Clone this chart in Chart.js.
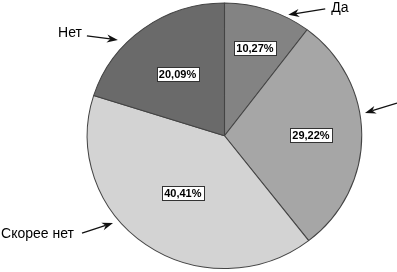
<!DOCTYPE html>
<html>
<head>
<meta charset="utf-8">
<script src="https://cdn.jsdelivr.net/npm/chart.js@4"></script>
<style>
    html, body { margin: 0; padding: 0; background: #fff; }
    #wrap { width: 397px; height: 272px; }
</style>
</head>
<body>
<div id="wrap"><canvas id="pieChart"></canvas></div>
<script>
const answers = ['Да', 'Скорее да', 'Скорее нет', 'Нет'];
const shares = [10.27, 29.22, 40.41, 20.09];
const sliceColors = ['#838383', '#a6a6a6', '#d3d3d3', '#6a6a6a'];

// the original pie is a bit wider than tall
const stretchX = 1.034;

// callout arrows: tip angle (deg from top), gap from rim, tail offset, text offset
const callouts = [
    { angle: 27.0, gap: 3, dx: 37, dy: -6, tx: 6, ty: -1 },
    { angle: 80.5, gap: 5, dx: 32, dy: -10, tx: 6, ty: -1 },
    { angle: 231.0, gap: 6, dx: -31, dy: 10, tx: -8, ty: 1 },
    { angle: 312.9, gap: 8, dx: -31, dy: -4, tx: -5, ty: -3 }
];
const valueRadius = [0.70, 0.63, 0.53, 0.58];

function fmt(v) {
    return v.toFixed(2).replace('.', ',') + '%';
}

function arrow(ctx, x1, y1, x2, y2) {
    const a = Math.atan2(y2 - y1, x2 - x1);
    const len = 11, half = 4;
    const c = Math.cos(a), s = Math.sin(a);
    ctx.beginPath();
    ctx.moveTo(x1, y1);
    ctx.lineTo(x2 - c * len * 0.7, y2 - s * len * 0.7);
    ctx.stroke();
    ctx.beginPath();
    ctx.moveTo(x2, y2);
    ctx.lineTo(x2 - c * len - s * half, y2 - s * len + c * half);
    ctx.lineTo(x2 - c * len * 0.7, y2 - s * len * 0.7);
    ctx.lineTo(x2 - c * len + s * half, y2 - s * len - c * half);
    ctx.closePath();
    ctx.fill();
}

const stretchPlugin = {
    id: 'stretch',
    beforeDatasetsDraw(chart) {
        const arc = chart.getDatasetMeta(0).data[0];
        const ctx = chart.ctx;
        ctx.save();
        ctx.translate(arc.x, arc.y);
        ctx.scale(stretchX, 1);
        ctx.translate(-arc.x, -arc.y);
    },
    afterDatasetsDraw(chart) {
        chart.ctx.restore();
    }
};

const labelPlugin = {
    id: 'pieLabels',
    afterDatasetsDraw(chart) {
        const ctx = chart.ctx;
        const arcs = chart.getDatasetMeta(0).data;
        ctx.save();
        arcs.forEach((arc, i) => {
            const cx = arc.x, cy = arc.y, R = arc.outerRadius;
            const mid = (arc.startAngle + arc.endAngle) / 2;

            // value box
            const r = R * valueRadius[i];
            const lx = cx + Math.cos(mid) * r * stretchX;
            const ly = cy + Math.sin(mid) * r;
            ctx.font = 'bold 11px "Liberation Sans", Arial, sans-serif';
            const txt = fmt(shares[i]);
            const w = Math.round(ctx.measureText(txt).width + 5);
            const h = 14;
            const bx = Math.round(lx - w / 2) + 0.5, by = Math.round(ly - h / 2) + 0.5;
            ctx.fillStyle = '#fff';
            ctx.fillRect(bx, by, w, h);
            ctx.strokeStyle = '#333';
            ctx.lineWidth = 1;
            ctx.strokeRect(bx, by, w, h);
            ctx.fillStyle = '#000';
            ctx.textAlign = 'center';
            ctx.textBaseline = 'middle';
            ctx.fillText(txt, lx, ly + 1);

            // callout arrow + name
            const c = callouts[i];
            const a = (c.angle - 90) * Math.PI / 180;
            const tx = cx + Math.cos(a) * (R + c.gap) * stretchX;
            const ty = cy + Math.sin(a) * (R + c.gap);
            const sx = tx + c.dx, sy = ty + c.dy;
            ctx.strokeStyle = '#111';
            ctx.fillStyle = '#111';
            ctx.lineWidth = 1.3;
            arrow(ctx, sx, sy, tx, ty);
            ctx.font = '14px "Liberation Sans", Arial, sans-serif';
            ctx.textAlign = c.tx > 0 ? 'left' : 'right';
            ctx.fillStyle = '#000';
            ctx.fillText(answers[i], sx + c.tx, sy + c.ty);
        });
        ctx.restore();
    }
};

new Chart(document.getElementById('pieChart').getContext('2d'), {
    type: 'pie',
    data: {
        labels: answers,
        datasets: [{
            data: shares,
            backgroundColor: sliceColors,
            borderColor: '#444',
            borderWidth: 1
        }]
    },
    options: {
        responsive: true,
        maintainAspectRatio: false,
        animation: false,
        layout: { padding: { left: 91.25, right: 39.25, top: 2.5, bottom: 3 } },
        plugins: {
            legend: { display: false },
            tooltip: { enabled: false }
        }
    },
    plugins: [stretchPlugin, labelPlugin]
});
</script>
</body>
</html>
